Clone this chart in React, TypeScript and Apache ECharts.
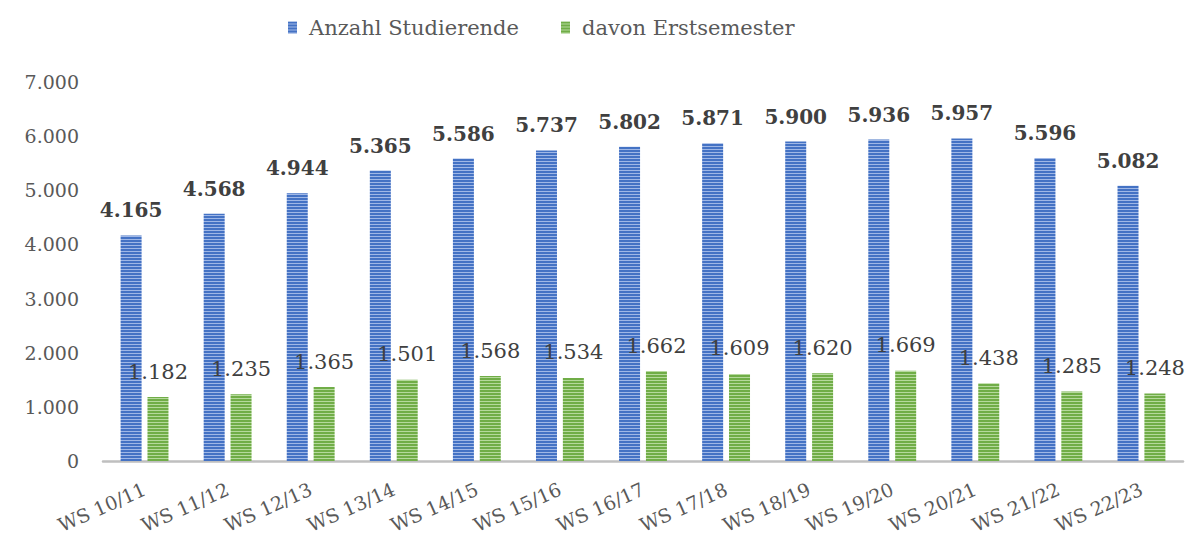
import React, { useEffect, useRef } from "react";
import * as echarts from "echarts";

const categories = ["WS 10/11", "WS 11/12", "WS 12/13", "WS 13/14", "WS 14/15", "WS 15/16", "WS 16/17", "WS 17/18", "WS 18/19", "WS 19/20", "WS 20/21", "WS 21/22", "WS 22/23"];
const studierende = [4165, 4568, 4944, 5365, 5586, 5737, 5802, 5871, 5900, 5936, 5957, 5596, 5082];
const erstsemester = [1182, 1235, 1365, 1501, 1568, 1534, 1662, 1609, 1620, 1669, 1438, 1285, 1248];
const seriesNames = ["Anzahl Studierende", "davon Erstsemester"];

const fmt = (v: number) => {
  const s = String(Math.round(v));
  return s.replace(/\B(?=(\d{3})+(?!\d))/g, ".");
};

function stripe(base: string, light: string) {
  const c = document.createElement("canvas");
  c.width = 4;
  c.height = 3;
  const ctx = c.getContext("2d")!;
  ctx.fillStyle = base;
  ctx.fillRect(0, 0, 4, 3);
  ctx.fillStyle = light;
  ctx.fillRect(0, 2, 4, 1);
  return { image: c, repeat: "repeat" } as any;
}

const FONT = "DejaVu Serif";

export default function App() {
  const ref = useRef<HTMLDivElement>(null);
  useEffect(() => {
    document.body.style.margin = "0";
    const chart = echarts.init(ref.current!, undefined, { renderer: "svg" });
    const blue = stripe("#4472C4", "#9fb7e6");
    const green = stripe("#70AD47", "#b5d99c");
    chart.setOption({
      animation: false,
      textStyle: { fontFamily: FONT },
      legend: {
        top: 12,
        left: 283,
        itemGap: 42,
        itemWidth: 9,
        itemHeight: 12,
        icon: "rect",
        textStyle: { fontFamily: FONT, fontSize: 21, color: "#595959", padding: [0, 0, 0, 7] },
        data: [
          { name: seriesNames[0], itemStyle: { color: blue } },
          { name: seriesNames[1], itemStyle: { color: green } },
        ],
      },
      grid: { left: 103, right: 14, top: 82, bottom: 86, containLabel: false },
      xAxis: {
        type: "category",
        data: categories,
        axisLine: { lineStyle: { color: "#bfbfbf", width: 2.5 } },
        axisTick: { show: false },
        axisLabel: {
          rotate: 24,
          interval: 0,
          margin: 27,
          fontFamily: FONT,
          fontSize: 19,
          color: "#595959",
        },
      },
      yAxis: {
        type: "value",
        min: 0,
        max: 7000,
        interval: 1000,
        splitLine: { show: false },
        axisLine: { show: false },
        axisTick: { show: false },
        axisLabel: {
          formatter: (v: number) => fmt(v),
          fontFamily: FONT,
          fontSize: 19,
          color: "#595959",
          margin: 24,
        },
      },
      series: [
        {
          name: seriesNames[0],
          type: "bar",
          data: studierende,
          barWidth: 21,
          barGap: "28%",
          itemStyle: { color: blue },
          label: {
            show: true,
            position: "top",
            distance: 15,
            formatter: (p: any) => fmt(p.value),
            fontFamily: FONT,
            fontSize: 20,
            fontWeight: "bold",
            color: "#404040",
          },
        },
        {
          name: seriesNames[1],
          type: "bar",
          data: erstsemester,
          barWidth: 21,
          itemStyle: { color: green },
          label: {
            show: true,
            position: "top",
            distance: 15,
            formatter: (p: any) => fmt(p.value),
            fontFamily: FONT,
            fontSize: 21,
            color: "#404040",
          },
        },
      ],
    });
    return () => chart.dispose();
  }, []);
  return <div ref={ref} style={{ width: 1197, height: 547 }} />;
}
